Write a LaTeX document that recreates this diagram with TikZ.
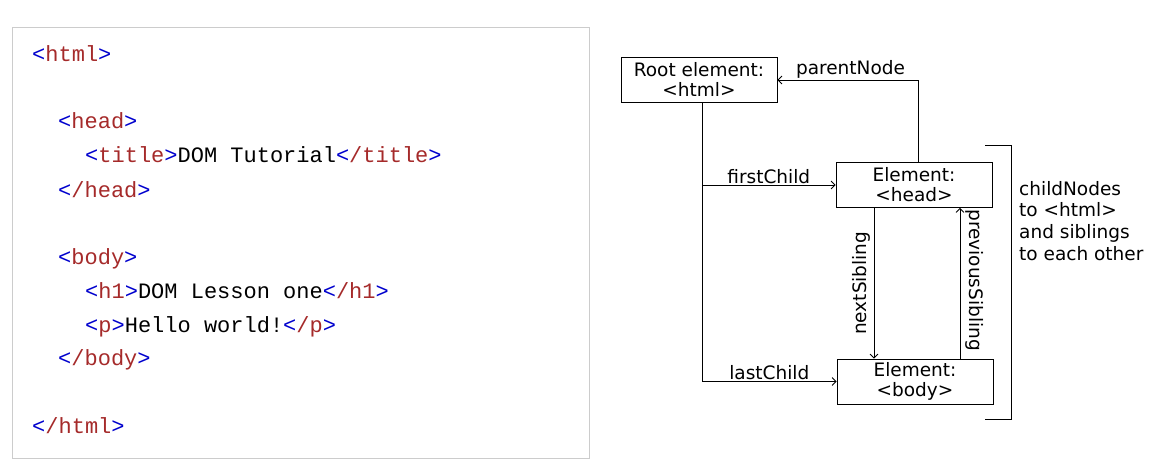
\documentclass[tikz,border=0pt]{standalone}
\usepackage{fontspec}
\setmonofont{Liberation Mono}
\newfontfamily\diafont{DejaVu Sans}
\usetikzlibrary{arrows.meta}

\definecolor{tagblue}{HTML}{0000CD}
\definecolor{tagred}{HTML}{A52A2A}
\definecolor{boxgray}{HTML}{CCCCCC}

\newcommand{\otag}[1]{\textcolor{tagblue}{<}\textcolor{tagred}{#1}\textcolor{tagblue}{>}}
\newcommand{\ctag}[1]{\textcolor{tagblue}{<}\textcolor{tagred}{/#1}\textcolor{tagblue}{>}}

\begin{document}
\begin{tikzpicture}[x=1pt, y=-1pt,
		codeline/.style={anchor=base west, inner sep=0pt, font=\ttfamily\fontsize{22}{26}\selectfont},
		elembox/.style={draw, rectangle, thick, minimum width=156pt, minimum height=45pt, inner sep=0pt, align=center, font=\diafont\fontsize{18.5}{20}\selectfont},
		lbl/.style={inner sep=1pt, font=\diafont\fontsize{18.5}{20}\selectfont},
		link/.style={thick, -{Straight Barb[length=4pt, width=8pt]}}]
		\useasboundingbox (0,0) rectangle (1170,476);

		% source code
		\draw[boxgray, thick] (12,27) rectangle (589,458);
		\node[codeline] (l1) at (32,62) {\otag{html}};
		\node[codeline] (l2) at (58,129) {\otag{head}};
		\node[codeline] (l3) at (85,163) {\otag{title}\textcolor{black}{DOM Tutorial}\ctag{title}};
		\node[codeline] (l4) at (58,197) {\ctag{head}};
		\node[codeline] (l5) at (58,264) {\otag{body}};
		\node[codeline] (l6) at (85,298) {\otag{h1}DOM Lesson one\ctag{h1}};
		\node[codeline] (l7) at (85,332) {\otag{p}Hello world!\ctag{p}};
		\node[codeline] (l8) at (58,365) {\ctag{body}};
		\node[codeline] (l9) at (32,433) {\ctag{html}};

		% tree
		\node[elembox] (root) at (699,79.5) {Root element:\\<html>};
		\node[elembox] (head) at (914,185) {Element:\\<head>};
		\node[elembox] (body) at (915,381.5) {Element:\\<body>};

		\coordinate (fork1) at (702,185);
		\coordinate (fork2) at (702,381.5);
		\draw[thick] (root.south -| fork1) -- (fork2);
		\draw[link] (fork1) -- node[lbl, above, pos=0.5] {firstChild} (head.west);
		\draw[link] (fork2) -- node[lbl, above, pos=0.5] {lastChild} (body.west);

		\coordinate (up) at (918,80);
		\draw[link] (head.north -| up) -- (up) -- node[lbl, above, pos=0.48] {parentNode} (root.east |- up);

		\coordinate (nx) at (874,0);
		\coordinate (pv) at (960,0);
		\draw[link] (head.south -| nx) -- node[lbl, rotate=90, anchor=south, inner sep=3pt] {nextSibling} (body.north -| nx);
		\draw[link] (body.north -| pv) -- node[lbl, rotate=-90, anchor=south, inner sep=5pt, pos=0.52] {previousSibling} (head.south -| pv);

		% bracket
		\coordinate (bt) at (1011,145);
		\coordinate (bb) at (1011,419);
		\draw[thick] (985,145) -- (bt) -- (bb) -- (985,419);
		\node[lbl, anchor=north west, align=left, inner sep=0pt, font=\diafont\fontsize{18.5}{21.7}\selectfont] (kids) at (1019,181) {childNodes\\to <html>\\and siblings\\to each other};
	\end{tikzpicture}
\end{document}
